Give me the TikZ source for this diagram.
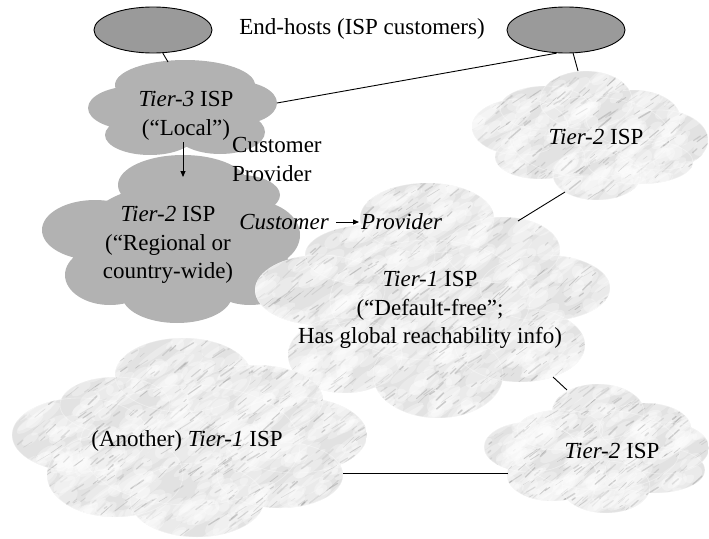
\documentclass[tikz,border=0pt]{standalone}
\usepackage{fontspec}
\setmainfont{Liberation Serif}
\usetikzlibrary{arrows.meta,shapes.geometric}
\definecolor{hostgray}{HTML}{9A9A9A}
\definecolor{cloudgray}{HTML}{B2B2B2}
\definecolor{marblebase}{HTML}{E2E2E2}
\definecolor{veingray}{HTML}{8A8A8A}

% #1 ellipse list, #2 xmin, #3 ymin, #4 width, #5 height, #6 number of veins
\newcommand\marblecloud[6]{%
  \begin{scope}
    \clip \foreach \cx/\cy/\rx/\ry in {#1} {(\cx,\cy) ellipse [x radius=\rx pt, y radius=\ry pt]};
    \fill[marblebase] (#2,#3) rectangle ++(#4,#5);
    \foreach \k in {1,...,#6} {
      \pgfmathsetmacro\xx{#2+rnd*#4}
      \pgfmathsetmacro\yy{#3+rnd*#5}
      \pgfmathsetmacro\len{6+rnd*16}
      \pgfmathsetmacro\hw{3+rnd*5}
      \fill[white, opacity=0.3] (\xx,\yy) ellipse [x radius=\len pt, y radius=\hw pt, rotate=35];
    }
    \foreach \k in {1,...,#6} {
      \pgfmathsetmacro\xx{#2+rnd*#4}
      \pgfmathsetmacro\yy{#3+rnd*#5}
      \pgfmathsetmacro\len{3+rnd*13}
      \pgfmathsetmacro\lw{0.3+rnd*1.3}
      \pgfmathsetmacro\op{0.1+rnd*0.3}
      \pgfmathsetmacro\ang{30+rnd*15}
      \pgfmathsetmacro\ddx{\len*cos(\ang)}
      \pgfmathsetmacro\ddy{-\len*sin(\ang)}
      \draw[veingray, line width=\lw pt, opacity=\op, line cap=round] (\xx,\yy) -- ++(\ddx,\ddy);
    }
    \foreach \cx/\cy/\rx/\ry in {#1} {
      \draw[white, opacity=0.35, line width=0.8pt] (\cx,\cy) ellipse [x radius=\rx pt, y radius=\ry pt];
    }
  \end{scope}}

\newcommand\graycloud[1]{%
  \fill[cloudgray] \foreach \cx/\cy/\rx/\ry in {#1} {(\cx,\cy) ellipse [x radius=\rx pt, y radius=\ry pt]};}

\begin{document}
\begin{tikzpicture}[x=1pt,y=-1pt,
  every node/.style={inner sep=0pt},
  font=\fontsize{23}{28.5}\selectfont,
  lbl/.style={align=center},
  host/.style={ellipse, draw=black, line width=0.9pt, fill=hostgray,
               minimum width=118pt, minimum height=46pt},
  link/.style={draw=black, line width=0.9pt},
  cparrow/.style={draw=black, line width=0.9pt, -{Triangle[length=6pt,width=5pt]}}]
\useasboundingbox (0,0) rectangle (709,538);
\pgfmathsetseed{7}

% gray clouds
\graycloud{185/85/70/25, 135/108/47/22, 235/103/42/22, 150/135/45/20, 220/132/45/22, 185/110/70/30}
\graycloud{183/185/65/30, 95/230/53/30, 250/235/50/35, 110/275/45/30, 177/295/55/28, 250/275/45/30, 170/240/90/55, 240/195/40/20}

% marble clouds
\marblecloud{427/218/67/35, 503/250/57/33, 545/288/65/33, 520/345/65/37, 438/375/65/43, 345/355/57/38, 320/290/65/35, 370/255/65/30, 430/300/100/60}{255}{183}{355}{235}{600}
\marblecloud{183/375/68/37, 255/400/68/35, 295/435/72/38, 280/475/63/33, 197/500/67/37, 115/475/68/42, 80/435/68/37, 115/405/55/28, 190/445/110/60}{12}{338}{355}{200}{540}
\marblecloud{586/100/46/29, 633/118/47/28, 660/140/48/30, 640/162/53/22, 597/175/44/25, 540/157/45/22, 520/127/48/28, 545/108/45/22, 590/137/80/40}{472}{71}{237}{130}{240}
\marblecloud{598/412/46/28, 645/428/46/25, 663/448/46/26, 655/470/50/23, 606/487/44/26, 552/475/45/26, 530/447/46/25, 560/430/43/20, 600/450/80/40}{484}{384}{225}{130}{240}

% end hosts
\node[host] (eh1) at (153,30) {};
\node[host] (eh2) at (566,30) {};

% connector end points on cloud borders
\coordinate (t3top) at (168,62);
\coordinate (t3east) at (277,103);
\coordinate (t2atop) at (578,71);
\coordinate (t2abot) at (565,192);
\coordinate (t1ne) at (518,221);
\coordinate (t1se) at (553,377);
\coordinate (t2bnw) at (567,390);
\coordinate (t1bE) at (343,473);
\coordinate (t2bW) at (508,473);
\coordinate (arrtop) at (183,142);
\coordinate (arrbot) at (183,177);

\draw[link] (eh1.293) -- (t3top);
\draw[link] (t3east) -- (eh2.248);
\draw[link] (eh2.287) -- (t2atop);
\draw[link] (t1ne) -- (t2abot);
\draw[link] (t1se) -- (t2bnw);
\draw[link] (t1bE) -- (t2bW);
\draw[cparrow] (arrtop) -- (arrbot);

% texts
\node (ehtxt) at (362,29) {End-hosts (ISP customers)};
\node[lbl] (t3) at (186,116) {\textit{Tier-3} ISP\\(“Local”)};
\node[align=left, anchor=west] (cpv) at (232,159.5) {Customer\\Provider};
\node[lbl] (t2l) at (168,245) {\textit{Tier-2} ISP\\(“Regional or\\country-wide)};
\node[anchor=east] (cust) at (329,222) {\textit{Customer}};
\node[anchor=west] (prov) at (361,222) {\textit{Provider}};
\draw[cparrow] ([xshift=7pt]cust.east) -- ([xshift=-2pt]prov.west);
\node[lbl] (t1) at (430,310) {\textit{Tier-1} ISP\\(“Default-free”;\\Has global reachability info)};
\node (t2a) at (596,137) {\textit{Tier-2} ISP};
\node (t2b) at (612,451) {\textit{Tier-2} ISP};
\node (t1b) at (187,441) {(Another) \textit{Tier-1} ISP};
\end{tikzpicture}
\end{document}
